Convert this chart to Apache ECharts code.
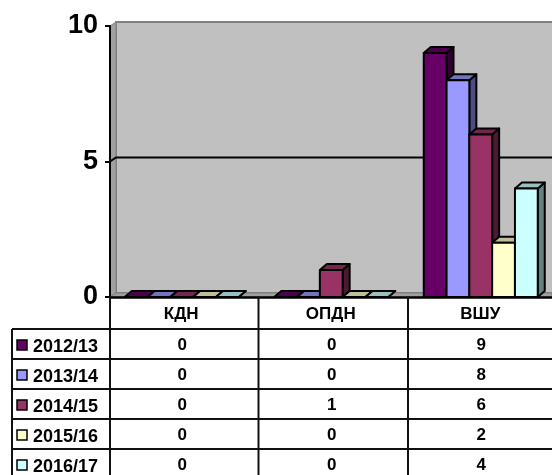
<!DOCTYPE html>
<html lang="en">
<head>
    <meta charset="UTF-8">
    <title>КДН ОПДН ВШУ</title>
    <style>
        html, body { margin: 0; padding: 0; background: #fff; overflow: hidden; }
        #chart { width: 552px; height: 475px; }
    </style>
    <script src="https://cdn.jsdelivr.net/npm/echarts@6/dist/echarts.min.js"></script>
</head>
<body>
    <div id="chart"></div>
    <script>
        // data
        var categories = ['КДН', 'ОПДН', 'ВШУ'];
        var years = ['2012/13', '2013/14', '2014/15', '2015/16', '2016/17'];
        var values2012 = [0, 0, 9];
        var values2013 = [0, 0, 8];
        var values2014 = [0, 1, 6];
        var values2015 = [0, 0, 2];
        var values2016 = [0, 0, 4];
        var allValues = [values2012, values2013, values2014, values2015, values2016];
        var colors = ['#660066', '#9999FF', '#993366', '#FFFFCC', '#CCFFFF'];
        var topColors = ['#4d004d', '#7373bf', '#732650', '#bfbf99', '#99bfbf'];
        var sideColors = ['#330033', '#4d4d80', '#4d1a33', '#808066', '#668080'];

        // layout
        var font = 'Liberation Sans, Arial, sans-serif';
        var gridLeft = 110, gridTop = 26, gridWidth = 448.5, gridHeight = 271;
        var colWidth = gridWidth / categories.length;
        var depthX = 7, depthY = 6;
        var barWidth = 22.8;
        var tableLeft = 12, headerBottom = 329, rowHeight = 30;

        // 3D box for one series
        function boxRenderer(seriesIdx) {
            return function (params, api) {
                var base = api.coord([api.value(0), 0]);
                var top = api.coord([api.value(0), api.value(1)]);
                var x0 = base[0] - 3 - barWidth * years.length / 2 + seriesIdx * barWidth;
                var x1 = x0 + barWidth;
                var style = { stroke: '#000', lineWidth: 2, lineJoin: 'round' };
                return {
                    type: 'group',
                    children: [
                        {
                            type: 'polygon',
                            shape: { points: [[x1, base[1]], [x1 + depthX, base[1] - depthY], [x1 + depthX, top[1] - depthY], [x1, top[1]]] },
                            style: Object.assign({ fill: sideColors[seriesIdx] }, style)
                        },
                        {
                            type: 'polygon',
                            shape: { points: [[x0, top[1]], [x0 + depthX, top[1] - depthY], [x1 + depthX, top[1] - depthY], [x1, top[1]]] },
                            style: Object.assign({ fill: topColors[seriesIdx] }, style)
                        },
                        {
                            type: 'rect',
                            shape: { x: x0, y: top[1], width: barWidth, height: base[1] - top[1] },
                            style: Object.assign({ fill: colors[seriesIdx] }, style)
                        }
                    ]
                };
            };
        }

        // back wall, side wall, floor and the gridline on the wall
        function wallRenderer(params, api) {
            var x0 = gridLeft, x1 = 552;
            var y10 = api.coord([0, 10])[1], y5 = api.coord([0, 5])[1], y0 = api.coord([0, 0])[1];
            var dx = 6, dy = 4;
            return {
                type: 'group',
                children: [
                    {
                        type: 'rect',
                        shape: { x: x0 + dx, y: y10 - dy, width: x1 - x0, height: y0 - y10 },
                        style: { fill: '#C0C0C0', stroke: '#808080', lineWidth: 2 }
                    },
                    {
                        type: 'polygon',
                        shape: { points: [[x0, y10], [x0 + dx, y10 - dy], [x0 + dx, y0 - dy], [x0, y0]] },
                        style: { fill: '#A0A0A0', stroke: '#808080', lineWidth: 1 }
                    },
                    {
                        type: 'polygon',
                        shape: { points: [[x0, y0], [x0 + dx, y0 - dy], [x1, y0 - dy], [x1, y0]] },
                        style: { fill: '#A0A0A0', stroke: '#808080', lineWidth: 1 }
                    },
                    {
                        type: 'polyline',
                        shape: { points: [[x0, y5], [x0 + dx, y5 - dy], [x1, y5 - dy]] },
                        style: { fill: null, stroke: '#000', lineWidth: 2 }
                    }
                ]
            };
        }

        // data table under the plot
        function tableLine(x1, y1, x2, y2) {
            return {
                type: 'line',
                z: 20,
                shape: { x1: x1, y1: y1, x2: x2, y2: y2 },
                style: { stroke: '#111', lineWidth: 2 }
            };
        }

        function tableText(text, x, y, align, size) {
            return {
                type: 'text',
                z: 21,
                x: x,
                y: y,
                style: {
                    text: text,
                    fill: '#000',
                    font: 'bold ' + size + 'px ' + font,
                    align: align,
                    verticalAlign: 'middle'
                }
            };
        }

        function buildTable() {
            var items = [];
            var tableBottom = 475;
            items.push(tableLine(tableLeft, headerBottom, 552, headerBottom));
            items.push(tableLine(tableLeft, headerBottom, tableLeft, tableBottom));
            for (var c = 0; c <= categories.length; c++) {
                var lineX = gridLeft + c * colWidth - (c > 0 ? 1 : 0);
                items.push(tableLine(lineX, gridTop + gridHeight, lineX, tableBottom));
            }
            years.forEach(function (year, r) {
                var rowBottom = headerBottom + (r + 1) * rowHeight;
                var rowMid = rowBottom - rowHeight / 2;
                if (rowBottom < tableBottom) {
                    items.push(tableLine(tableLeft, rowBottom, 552, rowBottom));
                }
                items.push({
                    type: 'rect',
                    z: 21,
                    shape: { x: 17, y: rowMid - 4, width: 10, height: 10 },
                    style: { fill: colors[r], stroke: '#000', lineWidth: 1.5 }
                });
                items.push(tableText(year, 33, rowMid + 3, 'left', 18));
                allValues[r].forEach(function (v, c) {
                    items.push(tableText(String(v), gridLeft + (c + 0.5) * colWidth - 2.5, rowMid + 1, 'center', 17));
                });
            });
            return items;
        }

        var series = [{
            type: 'custom',
            z: 1,
            silent: true,
            clip: false,
            renderItem: wallRenderer,
            data: [[0, 0]]
        }];
        years.forEach(function (year, i) {
            series.push({
                type: 'custom',
                name: year,
                z: 2 + i,
                clip: false,
                renderItem: boxRenderer(i),
                encode: { x: 0, y: 1 },
                data: allValues[i].map(function (v, c) { return [c, v]; })
            });
        });

        var option = {
            animation: false,
            backgroundColor: '#fff',
            grid: { left: gridLeft, top: gridTop, right: 552 - gridLeft - gridWidth, height: gridHeight, outerBoundsMode: 'none' },
            xAxis: {
                type: 'category',
                data: categories,
                z: 10,
                axisLine: { show: true, lineStyle: { color: '#000', width: 2.5 } },
                axisTick: { show: false },
                axisLabel: { color: '#000', fontFamily: font, fontWeight: 'bold', fontSize: 17, margin: 9, interval: 0, padding: [0, 7, 0, 0] }
            },
            yAxis: {
                type: 'value',
                min: 0,
                max: 10,
                interval: 5,
                z: 10,
                splitLine: { show: false },
                axisLine: { show: true, lineStyle: { color: '#000', width: 2 } },
                axisTick: { show: true, length: 5, lineStyle: { color: '#000', width: 2 } },
                axisLabel: { color: '#000', fontFamily: font, fontWeight: 'bold', fontSize: 27, margin: 12 }
            },
            graphic: buildTable(),
            series: series
        };

        var chart = echarts.init(document.getElementById('chart'));
        chart.setOption(option);
    </script>
</body>
</html>
